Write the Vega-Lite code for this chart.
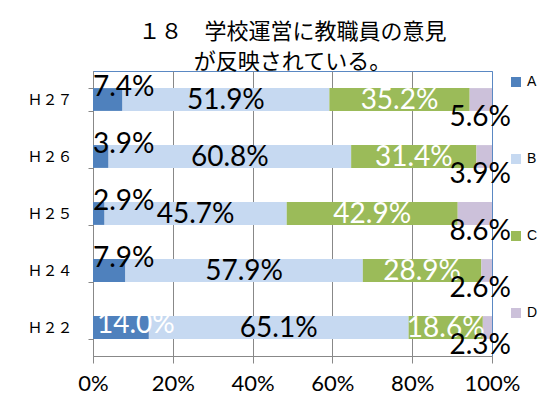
{
  "$schema": "https://vega.github.io/schema/vega-lite/v6.json",
  "width": 399,
  "height": 285,
  "autosize": {"type": "none"},
  "padding": {"left": 93, "top": 71, "right": 50, "bottom": 48},
  "background": "white",
  "title": {
    "text": ["１８　学校運営に教職員の意見", "が反映されている。"],
    "font": "Noto Sans CJK JP",
    "fontSize": 22,
    "fontWeight": "normal",
    "color": "#000000",
    "anchor": "middle",
    "lineHeight": 30,
    "offset": -10
  },
  "data": {
    "values": [
      {"year": "Ｈ２７", "series": "A", "share": 0.074},
      {"year": "Ｈ２７", "series": "B", "share": 0.519},
      {"year": "Ｈ２７", "series": "C", "share": 0.352},
      {"year": "Ｈ２７", "series": "D", "share": 0.056},
      {"year": "Ｈ２６", "series": "A", "share": 0.039},
      {"year": "Ｈ２６", "series": "B", "share": 0.608},
      {"year": "Ｈ２６", "series": "C", "share": 0.314},
      {"year": "Ｈ２６", "series": "D", "share": 0.039},
      {"year": "Ｈ２５", "series": "A", "share": 0.029},
      {"year": "Ｈ２５", "series": "B", "share": 0.457},
      {"year": "Ｈ２５", "series": "C", "share": 0.429},
      {"year": "Ｈ２５", "series": "D", "share": 0.086},
      {"year": "Ｈ２４", "series": "A", "share": 0.079},
      {"year": "Ｈ２４", "series": "B", "share": 0.579},
      {"year": "Ｈ２４", "series": "C", "share": 0.289},
      {"year": "Ｈ２４", "series": "D", "share": 0.026},
      {"year": "Ｈ２２", "series": "A", "share": 0.14},
      {"year": "Ｈ２２", "series": "B", "share": 0.651},
      {"year": "Ｈ２２", "series": "C", "share": 0.186},
      {"year": "Ｈ２２", "series": "D", "share": 0.023}
    ]
  },
  "encoding": {
    "y": {
      "field": "year",
      "type": "nominal",
      "sort": ["Ｈ２７", "Ｈ２６", "Ｈ２５", "Ｈ２４", "Ｈ２２"],
      "scale": {"paddingInner": 0.6, "paddingOuter": 0.3},
      "axis": {
        "title": null,
        "labelFont": "Noto Sans CJK JP",
        "labelFontSize": 15,
        "labelColor": "#000000",
        "labelPadding": 16,
        "tickBand": "extent",
        "tickSize": 5,
        "tickColor": "#888888",
        "domainColor": "#888888",
        "grid": false
      }
    }
  },
  "layer": [
    {
      "mark": {"type": "bar"},
      "encoding": {
        "x": {
          "field": "share",
          "type": "quantitative",
          "stack": "normalize",
          "scale": {"domain": [0, 1], "nice": false},
          "axis": {
            "title": null,
            "values": [0, 0.2, 0.4, 0.6, 0.8, 1],
            "format": ".0%",
            "labelFont": "Lato",
            "labelFontSize": 22,
            "labelColor": "#000000",
            "labelPadding": 10,
            "tickSize": 7,
            "tickColor": "#888888",
            "domainColor": "#888888",
            "grid": true,
            "gridColor": {"condition": {"test": "datum.value === 1", "value": "#5a88c3"}, "value": "#888888"},
            "gridOpacity": 1,
            "labelFlush": false
          }
        },
        "color": {
          "field": "series",
          "type": "nominal",
          "scale": {"domain": ["A", "B", "C", "D"], "range": ["#4f81bd", "#c6d9f1", "#9bbb59", "#ccc1da"]},
          "legend": {
            "title": null,
            "orient": "none",
            "legendX": 416,
            "legendY": 4,
            "symbolType": "square",
            "symbolSize": 100,
            "symbolStrokeWidth": 0,
            "labelFont": "Liberation Sans",
            "labelFontSize": 14,
            "labelColor": "#000000",
            "labelOffset": 4,
            "rowPadding": 63,
            "padding": 0
          }
        },
        "order": {"field": "series"}
      }
    },
    {
      "mark": {"type": "text", "align": "left", "baseline": "middle", "dx": 0, "dy": -12, "font": "Lato", "fontSize": 28, "color": "#000000"},
      "encoding": {
        "x": {"field": "share", "type": "quantitative", "stack": "normalize", "bandPosition": 0},
        "detail": {"field": "series"},
        "order": {"field": "series"},
        "text": {"condition": {"test": "datum.series !== 'A' || datum.share >= 0.1", "value": ""}, "field": "share", "type": "quantitative", "format": ".1%"}
      }
    },
    {
      "mark": {"type": "text", "align": "left", "baseline": "middle", "dx": 4, "dy": -3, "font": "Lato", "fontSize": 28, "color": "#ffffff"},
      "encoding": {
        "x": {"field": "share", "type": "quantitative", "stack": "normalize", "bandPosition": 0},
        "detail": {"field": "series"},
        "order": {"field": "series"},
        "text": {"condition": {"test": "datum.series !== 'A' || datum.share < 0.1", "value": ""}, "field": "share", "type": "quantitative", "format": ".1%"}
      }
    },
    {
      "mark": {"type": "text", "align": "center", "baseline": "middle", "dy": 1, "font": "Lato", "fontSize": 28},
      "encoding": {
        "x": {"field": "share", "type": "quantitative", "stack": "normalize", "bandPosition": 0.5},
        "detail": {"field": "series"},
        "order": {"field": "series"},
        "color": {"condition": {"test": "datum.series === 'C'", "value": "#ffffff"}, "value": "#000000"},
        "text": {"condition": {"test": "datum.series === 'A' || datum.series === 'D'", "value": ""}, "field": "share", "type": "quantitative", "format": ".1%"}
      }
    },
    {
      "mark": {"type": "text", "align": "right", "baseline": "middle", "dx": 19, "dy": 18, "font": "Lato", "fontSize": 28, "color": "#000000"},
      "encoding": {
        "x": {"field": "share", "type": "quantitative", "stack": "normalize", "bandPosition": 1},
        "detail": {"field": "series"},
        "order": {"field": "series"},
        "text": {"condition": {"test": "datum.series !== 'D'", "value": ""}, "field": "share", "type": "quantitative", "format": ".1%"}
      }
    }
  ],
  "config": {
    "view": {"stroke": "#5a88c3", "strokeWidth": 1},
    "axis": {"domainWidth": 1, "tickWidth": 1, "gridWidth": 1}
  }
}
